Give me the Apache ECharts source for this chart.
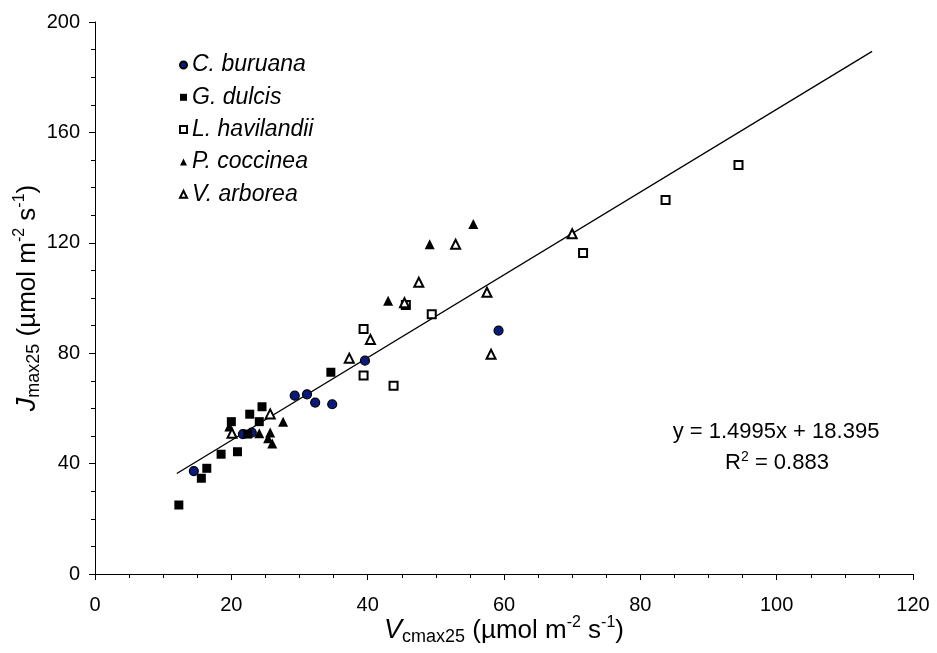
<!DOCTYPE html>
<html>
<head>
<meta charset="utf-8">
<script src="https://cdn.jsdelivr.net/npm/echarts@6/dist/echarts.min.js"></script>
<style>
  html, body { margin: 0; padding: 0; background: #fff; }
  #chart { width: 937px; height: 653px; }
</style>
</head>
<body>
<div id="chart"></div>
<script>
// species points: [Vcmax25, Jmax25]
const cBuruana = [[14.5, 37.3], [21.7, 50.7], [23.0, 51.2], [29.3, 64.6], [31.1, 65.1],
    [32.3, 62.1], [34.8, 61.5], [39.6, 77.3], [59.2, 88.2]];
const gDulcis = [[12.3, 25.0], [15.6, 34.7], [16.4, 38.3], [18.5, 43.4], [20.9, 44.3],
    [20.0, 55.2], [22.4, 50.7], [22.7, 57.9], [24.5, 60.6], [24.1, 55.2], [34.6, 73.1]];
const lHavilandii = [[39.4, 88.8], [39.4, 71.9], [43.8, 68.2], [45.6, 97.5], [49.4, 94.1],
    [71.6, 116.3], [83.7, 135.5], [94.4, 148.2]];
const pCoccinea = [[19.7, 53.4], [24.1, 51.0], [25.7, 51.3], [25.4, 49.2], [26.0, 47.3],
    [27.6, 55.2], [43.0, 99.0], [49.1, 119.5], [55.5, 126.8]];
const vArborea = [[20.1, 51.0], [25.7, 58.0], [37.3, 78.2], [40.4, 85.0], [45.4, 98.3],
    [47.5, 105.7], [52.9, 119.5], [57.5, 102.1], [58.1, 79.6], [70.0, 123.3]];

// fitted line from the printed equation
const fitSlope = 1.4995;
const fitIntercept = 18.395;
const fitRangeX = [12, 114];

const xTicks = { min: 0, max: 120, interval: 20 };
const yTicks = { min: 0, max: 200, interval: 40 };

const FONT = "'Liberation Sans', Arial, sans-serif";

function buildFitLine() {
    return fitRangeX.map((x) => [x, fitSlope * x + fitIntercept]);
}

function scatterSeries(name, data, symbol, fill, borderWidth, size) {
    return {
        name: name,
        type: "scatter",
        data: data,
        symbol: symbol,
        symbolSize: size,
        itemStyle: { color: fill, borderColor: "#000", borderWidth: borderWidth, opacity: 1 },
        z: 3
    };
}

function initChart() {
    const chart = echarts.init(document.getElementById("chart"));

    const axisCommon = {
        axisLine: { lineStyle: { color: "#000", width: 1 } },
        axisTick: { show: true, inside: false, length: 6, lineStyle: { color: "#000" } },
        minorTick: { show: true, splitNumber: 4, length: 4, lineStyle: { color: "#000" } },
        splitLine: { show: false },
        axisLabel: { color: "#000", fontFamily: FONT, fontSize: 20 },
        nameTextStyle: {
            color: "#000", fontFamily: FONT, fontSize: 26,
            rich: {
                it: { fontStyle: "italic", fontSize: 27, fontFamily: FONT },
                sub: { fontSize: 18, fontFamily: FONT, padding: [13, 0, 0, 0] },
                sup: { fontSize: 16, fontFamily: FONT, padding: [0, 0, 15, 0] },
                n: { fontSize: 26, fontFamily: FONT }
            }
        },
        nameLocation: "middle",
        nameMoveOverlap: false
    };

    const option = {
        animation: false,
        backgroundColor: "#fff",
        grid: { left: 95, right: 24, top: 22, bottom: 79, containLabel: false, outerBoundsMode: "none" },
        legend: {
            orient: "vertical",
            left: 174,
            top: 48,
            itemWidth: 7,
            itemHeight: 7,
            itemGap: 8.3,
            itemTextGap: 10,
            textStyle: { fontFamily: FONT, fontSize: 23, fontStyle: "italic", color: "#000", lineHeight: 24 },
            data: ["C. buruana", "G. dulcis", "L. havilandii", "P. coccinea", "V. arborea"]
        },
        xAxis: Object.assign({}, axisCommon, {
            type: "value",
            min: xTicks.min,
            max: xTicks.max,
            interval: xTicks.interval,
            name: "{it|V}{sub|cmax25}{n| (µmol m}{sup|-2}{n| s}{sup|-1}{n|)}",
            nameGap: 41,
            axisLabel: Object.assign({}, axisCommon.axisLabel, { margin: 21 })
        }),
        yAxis: Object.assign({}, axisCommon, {
            type: "value",
            min: yTicks.min,
            max: yTicks.max,
            interval: yTicks.interval,
            name: "{it|J}{sub|max25}{n| (µmol m}{sup|-2}{n| s}{sup|-1}{n|)}",
            nameRotate: 90,
            nameGap: 52,
            axisLabel: Object.assign({}, axisCommon.axisLabel, { margin: 15 })
        }),
        graphic: [
            {
                type: "text", x: 776, y: 432, z: 10,
                style: { text: "y = 1.4995x + 18.395", fontFamily: FONT, fontSize: 22, fill: "#000", align: "center", verticalAlign: "middle" }
            },
            {
                type: "text", x: 777, y: 463, z: 10,
                style: {
                    text: "{n|R}{sup|2}{n| = 0.883}", fill: "#000", align: "center", verticalAlign: "middle",
                    rich: {
                        n: { fontFamily: FONT, fontSize: 22, fill: "#000" },
                        sup: { fontFamily: FONT, fontSize: 14, fill: "#000", padding: [0, 0, 12, 0] }
                    }
                }
            }
        ],
        series: [
            {
                name: "fit",
                type: "line",
                data: buildFitLine(),
                symbol: "none",
                lineStyle: { color: "#000", width: 1.3 },
                z: 2,
                silent: true
            },
            scatterSeries("C. buruana", cBuruana, "circle", "#0a1a7a", 1.2, 9),
            scatterSeries("G. dulcis", gDulcis, "rect", "#000", 0, 9),
            scatterSeries("L. havilandii", lHavilandii, "rect", "#fff", 2, 8),
            scatterSeries("P. coccinea", pCoccinea, "triangle", "#000", 0, 10),
            scatterSeries("V. arborea", vArborea, "triangle", "#fff", 2, 9)
        ]
    };

    chart.setOption(option);
}

document.addEventListener("DOMContentLoaded", initChart);
</script>
</body>
</html>
